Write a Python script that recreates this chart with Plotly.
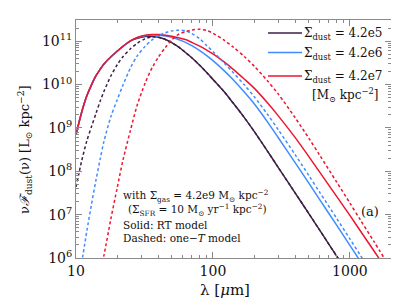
import plotly.graph_objects as go

# ---------------- data ----------------
# RT model (solid) and one-T model (dashed); wavelength in micron, nu*F in Lsun/kpc^2
lam_rt_5 = [10, 11, 12, 13, 14, 15, 16, 18, 20, 22, 25, 28, 32, 36, 40, 45, 50, 56, 63, 70,
            80, 90, 100, 120, 140, 170, 200, 250, 300, 400, 500, 600, 800, 900]
F_rt_5 = [7.0e8, 2.3e9, 5.5e9, 1.0e10, 1.6e10, 2.25e10, 3.0e10, 4.4e10, 5.9e10, 7.6e10,
          1.02e11, 1.17e11, 1.28e11, 1.29e11, 1.23e11, 1.10e11, 9.29e10, 7.38e10, 5.51e10, 4.16e10,
          2.79e10, 1.89e10, 1.32e10, 7.0e9, 3.80e9, 1.71e9, 8.34e8, 2.93e8, 1.22e8, 3.09e7,
          1.07e7, 4.44e6, 1.11e6, 6.4e5]

lam_rt_6 = [10, 11, 12, 13, 14, 15, 16, 18, 20, 22, 25, 28, 32, 36, 40, 45, 50, 56, 63, 70,
            80, 90, 100, 120, 140, 170, 200, 250, 300, 400, 500, 600, 800, 1000, 1200]
F_rt_6 = [7.0e8, 2.3e9, 5.5e9, 1.0e10, 1.6e10, 2.25e10, 3.0e10, 4.4e10, 5.9e10, 7.6e10,
          1.02e11, 1.21e11, 1.34e11, 1.39e11, 1.38e11, 1.32e11, 1.23e11, 1.10e11, 9.44e10, 7.91e10,
          6.10e10, 4.68e10, 3.58e10, 2.13e10, 1.31e10, 6.64e9, 3.61e9, 1.38e9, 5.94e8, 1.55e8,
          5.40e7, 2.25e7, 5.73e6, 1.96e6, 8.1e5]

lam_rt_7 = [10, 11, 12, 13, 14, 15, 16, 18, 20, 22, 25, 28, 32, 36, 40, 45, 50, 56, 63, 70,
            80, 90, 100, 120, 140, 170, 200, 250, 300, 400, 500, 600, 800, 1000, 1200, 1500, 1800]
F_rt_7 = [7.0e8, 2.3e9, 5.5e9, 1.0e10, 1.6e10, 2.25e10, 3.0e10, 4.4e10, 5.9e10, 7.6e10,
          1.02e11, 1.22e11, 1.37e11, 1.435e11, 1.43e11, 1.37e11, 1.30e11, 1.205e11, 1.094e11, 9.44e10,
          7.71e10, 6.27e10, 5.09e10, 3.37e10, 2.28e10, 1.33e10, 8.30e9, 3.80e9, 1.90e9, 5.90e8,
          2.21e8, 9.68e7, 2.63e7, 9.6e6, 4.09e6, 1.45e6, 6.2e5]

lam_1t_5 = [10, 11, 12, 13, 14, 15, 16, 18, 20, 22, 25, 28, 32, 36, 40, 45, 50, 56, 63, 70,
            80, 90, 100, 120, 140, 170, 200, 250, 300, 400, 500, 600, 800, 900]
F_1t_5 = [4.37e7, 1.74e8, 5.04e8, 1.09e9, 2.17e9, 4.11e9, 7.0e9, 1.60e10, 2.87e10, 4.39e10,
          6.72e10, 9.0e10, 1.14e11, 1.27e11, 1.23e11, 1.10e11, 9.29e10, 7.38e10, 5.51e10, 4.16e10,
          2.79e10, 1.89e10, 1.32e10, 7.0e9, 3.80e9, 1.71e9, 8.34e8, 2.93e8, 1.22e8, 3.09e7,
          1.07e7, 4.44e6, 1.11e6, 6.4e5]

lam_1t_6 = [11, 12, 13, 14, 15, 16, 18, 20, 22, 25, 28, 32, 36, 40, 45, 50, 56, 63, 70, 80,
            90, 100, 120, 140, 170, 200, 250, 300, 400, 500, 600, 800, 1000, 1200, 1300]
F_1t_6 = [7.6e5, 4.21e6, 1.79e7, 6.32e7, 1.88e8, 4.91e8, 1.85e9, 4.46e9, 9.64e9, 2.44e10,
          4.58e10, 7.67e10, 1.08e11, 1.35e11, 1.57e11, 1.73e11, 1.80e11, 1.74e11, 1.51e11, 1.14e11,
          7.96e10, 5.78e10, 3.21e10, 1.92e10, 9.73e9, 5.28e9, 2.07e9, 9.08e8, 2.37e8, 8.09e7,
          3.33e7, 8.22e6, 2.76e6, 1.12e6, 7.6e5]

lam_1t_7 = [15, 16, 18, 20, 22, 25, 28, 32, 36, 40, 45, 50, 56, 63, 70, 80, 90, 100, 120, 140,
            170, 200, 250, 300, 400, 500, 600, 800, 1000, 1200, 1500, 1800]
F_1t_7 = [4.5e5, 1.15e6, 8.17e6, 4.18e7, 1.79e8, 8.89e8, 3.38e9, 1.09e10, 2.47e10, 4.32e10,
          7.23e10, 1.07e11, 1.44e11, 1.66e11, 1.82e11, 1.89e11, 1.77e11, 1.53e11, 1.07e11, 7.43e10,
          4.39e10, 2.66e10, 1.22e10, 6.04e9, 1.69e9, 5.85e8, 2.38e8, 5.66e7, 1.85e7, 7.31e6,
          2.38e6, 9.4e5]

x_tickvals = [10, 100, 1000]
x_ticktext = ["10", "100", "1000"]
y_tickvals = [1e6, 1e7, 1e8, 1e9, 1e10, 1e11]
y_ticktext = ["10<sup>6</sup>", "10<sup>7</sup>", "10<sup>8</sup>", "10<sup>9</sup>",
              "10<sup>10</sup>", "10<sup>11</sup>"]

legend_labels = ["Σ<sub>dust</sub> = 4.2e5", "Σ<sub>dust</sub> = 4.2e6", "Σ<sub>dust</sub> = 4.2e7"]
legend_unit = "[M<sub>⊙</sub> kpc<sup>−2</sup>]"
note_lines = ["with Σ<sub>gas</sub> = 4.2e9 M<sub>⊙</sub> kpc<sup>−2</sup>",
              "(Σ<sub>SFR</sub> = 10 M<sub>⊙</sub> yr<sup>−1</sup> kpc<sup>−2</sup>)",
              "Solid: RT model",
              "Dashed: one−<i>T</i> model"]
panel_label = "(a)"
x_title = "λ [<i>μ</i>m]"
y_title = "ν<i>ℱ</i><sub>dust</sub>(ν) [L<sub>⊙</sub> kpc<sup>−2</sup>]"

# ---------------- style ----------------
C_DARK = "#3d1f47"
C_BLUE = "#3f8cff"
C_RED = "#ee1530"
AX = "#8a8a8a"
FONT = "DejaVu Serif"
DASH = "3px,2.5px"

W, H = 399, 299
L, R, T, B = 68, 16, 12, 49
PW, PH = W - L - R, H - T - B


def fx(px):
    return (px - L) / PW


def fy(py):
    return (H - B - py) / PH


fig = go.Figure()
series = [
    (lam_rt_5, F_rt_5, C_DARK, "solid"),
    (lam_rt_6, F_rt_6, C_BLUE, "solid"),
    (lam_rt_7, F_rt_7, C_RED, "solid"),
    (lam_1t_5, F_1t_5, C_DARK, DASH),
    (lam_1t_6, F_1t_6, C_BLUE, DASH),
    (lam_1t_7, F_1t_7, C_RED, DASH),
]
for lam, F, col, dash in series:
    fig.add_trace(go.Scatter(x=lam, y=F, mode="lines",
                             line=dict(color=col, width=1.5, dash=dash,
                                       shape="spline", smoothing=0.8),
                             showlegend=False, hoverinfo="skip"))

minor_x = [k * 10 ** e for e in (1, 2, 3) for k in range(2, 10) if k * 10 ** e <= 2000]
minor_y = [k * 10 ** e for e in range(6, 12) for k in range(2, 10) if k * 10 ** e <= 3.1e11]

axis_common = dict(type="log", showgrid=False, zeroline=False, showline=True,
                   linecolor=AX, linewidth=1, mirror="allticks", ticks="inside",
                   ticklen=6, tickcolor=AX, tickwidth=1,
                   tickfont=dict(family=FONT, size=14, color="#111"))

fig.update_xaxes(range=[1, 3.3], tickmode="array", tickvals=x_tickvals, ticktext=x_ticktext,
                 minor=dict(tickmode="array", tickvals=minor_x, ticks="inside", ticklen=3,
                            tickcolor=AX, showgrid=False),
                 **axis_common)
fig.update_yaxes(range=[6, 11.49], tickmode="array", tickvals=y_tickvals, ticktext=y_ticktext,
                 minor=dict(tickmode="array", tickvals=minor_y, ticks="inside", ticklen=3,
                            tickcolor=AX, showgrid=False),
                 **axis_common)

# legend (drawn manually)
leg_y = [25, 44.5, 68]
for yy, col, lab in zip(leg_y, [C_DARK, C_BLUE, C_RED], legend_labels):
    fig.add_shape(type="line", xref="paper", yref="paper", x0=fx(260), x1=fx(294),
                  y0=fy(yy), y1=fy(yy), line=dict(color=col, width=1.5))
    fig.add_annotation(xref="paper", yref="paper", x=fx(294), y=fy(yy + 1), text=lab,
                       showarrow=False, xanchor="left", yanchor="middle",
                       font=dict(family=FONT, size=12, color="#111"))
fig.add_annotation(xref="paper", yref="paper", x=fx(373), y=fy(87), text=legend_unit,
                   showarrow=False, xanchor="right", yanchor="middle",
                   font=dict(family=FONT, size=12, color="#111"))

note_pos = [(113, 188), (118, 202), (113, 216.5), (113, 230)]
for (xx, yy), txt in zip(note_pos, note_lines):
    fig.add_annotation(xref="paper", yref="paper", x=fx(xx), y=fy(yy), text=txt,
                       showarrow=False, xanchor="left", yanchor="middle",
                       font=dict(family=FONT, size=10.5, color="#111"))

fig.add_annotation(xref="paper", yref="paper", x=fx(362), y=fy(203), text=panel_label,
                   showarrow=False, xanchor="center", yanchor="middle",
                   font=dict(family=FONT, size=13, color="#111"))

fig.add_annotation(xref="paper", yref="paper", x=fx(217), y=fy(282), text=x_title,
                   showarrow=False, xanchor="center", yanchor="middle",
                   font=dict(family=FONT, size=15, color="#111"))
fig.add_annotation(xref="paper", yref="paper", x=fx(17), y=fy(142), text=y_title,
                   showarrow=False, xanchor="center", yanchor="middle", textangle=-90,
                   font=dict(family=FONT, size=13, color="#111"))

fig.update_layout(width=W, height=H, margin=dict(l=L, r=R, t=T, b=B),
                  paper_bgcolor="white", plot_bgcolor="white", showlegend=False)

fig.write_html("out.html")
